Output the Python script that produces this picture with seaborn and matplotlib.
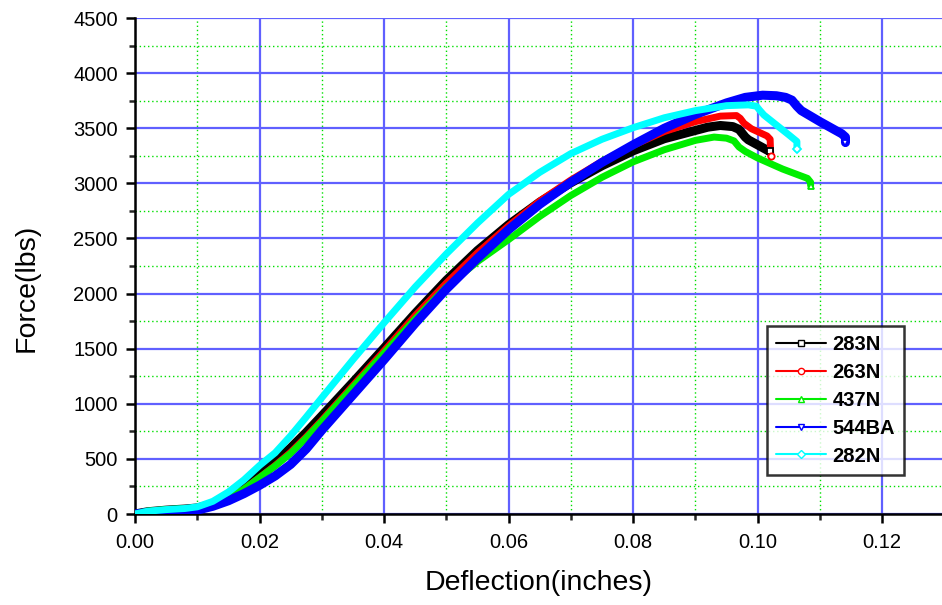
import numpy as np
import pandas as pd
import seaborn as sns
import matplotlib.pyplot as plt
from matplotlib.ticker import MultipleLocator, FormatStrFormatter

# values (deflection in inches, force in lbs)
x_283N = [0.0, 0.002, 0.005, 0.008, 0.01, 0.0125, 0.015, 0.0175, 0.02, 0.0225, 0.025, 0.0275, 0.03, 0.035,
          0.04, 0.045, 0.05, 0.055, 0.06, 0.065, 0.07, 0.075, 0.08, 0.085, 0.09, 0.092, 0.094, 0.096,
          0.097, 0.0975, 0.098, 0.0985, 0.1019]
f_283N = [0, 20, 35, 45, 55, 90, 160, 255, 370, 475, 600, 740, 890, 1195,
          1505, 1820, 2120, 2390, 2625, 2830, 3005, 3160, 3295, 3405, 3480, 3510, 3525, 3515,
          3490, 3455, 3420, 3395, 3290]

x_263N = [0.0, 0.002, 0.005, 0.008, 0.01, 0.0125, 0.015, 0.0175, 0.02, 0.0225, 0.025, 0.0275, 0.03, 0.035,
          0.04, 0.045, 0.05, 0.055, 0.06, 0.065, 0.07, 0.075, 0.08, 0.085, 0.09, 0.094, 0.0966,
          0.0972, 0.0978, 0.099, 0.1015, 0.102, 0.1021]
f_263N = [0, 15, 30, 40, 50, 80, 140, 225, 330, 440, 560, 700, 850, 1165,
          1480, 1800, 2095, 2370, 2615, 2840, 3030, 3200, 3345, 3470, 3560, 3610, 3615,
          3590, 3545, 3495, 3430, 3400, 3250]

x_437N = [0.0, 0.002, 0.005, 0.008, 0.01, 0.0125, 0.015, 0.0175, 0.02, 0.0225, 0.025, 0.0275, 0.03, 0.035,
          0.04, 0.045, 0.05, 0.055, 0.06, 0.065, 0.07, 0.075, 0.08, 0.085, 0.09, 0.093, 0.095, 0.0962,
          0.097, 0.098, 0.1, 0.104, 0.108, 0.1085, 0.1085]
f_437N = [0, 25, 40, 48, 55, 85, 145, 225, 330, 435, 550, 690, 840, 1150,
          1460, 1770, 2060, 2290, 2490, 2700, 2890, 3055, 3195, 3305, 3390, 3420, 3410, 3385,
          3330, 3290, 3230, 3130, 3045, 3010, 2980]

x_544BA = [0.0, 0.002, 0.005, 0.008, 0.01, 0.0125, 0.015, 0.0175, 0.02, 0.0225, 0.025, 0.0275, 0.03, 0.0325,
           0.035, 0.0375, 0.04, 0.045, 0.05, 0.055, 0.06, 0.065, 0.07, 0.075, 0.08, 0.085, 0.09, 0.095,
           0.098, 0.1008, 0.103, 0.1045, 0.1055, 0.1063, 0.107, 0.11, 0.1135, 0.1141, 0.1141]
f_544BA = [0, 12, 22, 30, 35, 70, 120, 185, 260, 345, 450, 590, 760, 920,
           1080, 1240, 1400, 1730, 2040, 2320, 2580, 2810, 3010, 3190, 3350, 3500, 3625, 3730,
           3780, 3800, 3795, 3780, 3755, 3700, 3660, 3560, 3450, 3420, 3370]

x_282N = [0.0, 0.002, 0.005, 0.008, 0.01, 0.0125, 0.015, 0.0175, 0.02, 0.0225, 0.025, 0.0275, 0.03, 0.035,
          0.04, 0.045, 0.05, 0.055, 0.06, 0.065, 0.07, 0.075, 0.08, 0.085, 0.09, 0.095, 0.0985,
          0.0998, 0.1003, 0.101, 0.103, 0.105, 0.1063, 0.1063]
f_282N = [0, 25, 40, 50, 65, 115, 200, 310, 440, 555, 710, 880, 1055, 1400,
          1735, 2060, 2360, 2640, 2900, 3100, 3270, 3400, 3505, 3595, 3660, 3705, 3712,
          3700, 3665, 3620, 3530, 3440, 3380, 3310]

names = ['283N', '263N', '437N', '544BA', '282N']
colors = ['black', '#ff0000', '#00ee00', '#0000ff', '#00ffff']
markers = ['s', 'o', '^', 'v', 'D']
widths = [6.5, 5, 5, 6.5, 5]

xs = [x_283N, x_263N, x_437N, x_544BA, x_282N]
fs = [f_283N, f_263N, f_437N, f_544BA, f_282N]

sns.set_style('white')
plt.rcParams['font.family'] = ['Liberation Sans', 'DejaVu Sans']
plt.rcParams['text.color'] = 'black'
plt.rcParams['axes.labelcolor'] = 'black'

fig = plt.figure(figsize=(9.42, 6.05), dpi=100)
ax = fig.add_axes([0.1433, 0.1504, 0.8567, 0.8198])

for x, f, n, c, m, w in zip(xs, fs, names, colors, markers, widths):
    d = pd.DataFrame({'Deflection': x, 'Force': f})
    sns.lineplot(data=d, x='Deflection', y='Force', color=c, sort=False, estimator=None,
                 linewidth=w, ax=ax, zorder=3, solid_joinstyle='round', solid_capstyle='round')
    # small open marker at the end of each curve
    ax.plot(x[-1], f[-1], marker=m, ms=4.5, mfc='white', mec=c, mew=1.3, ls='none', zorder=4)

ax.set_xlim(0, 0.1296)
ax.set_ylim(0, 4500)
ax.xaxis.set_major_locator(MultipleLocator(0.02))
ax.xaxis.set_minor_locator(MultipleLocator(0.01))
ax.yaxis.set_major_locator(MultipleLocator(500))
ax.yaxis.set_minor_locator(MultipleLocator(250))
ax.xaxis.set_major_formatter(FormatStrFormatter('%.2f'))

ax.grid(which='major', color='#6060ff', linewidth=1.6, linestyle='-', zorder=0)
ax.grid(which='minor', color='#00e000', linewidth=1.0, linestyle=(0, (1, 2)), zorder=0)
ax.set_axisbelow(True)

for s in ['top', 'right']:
    ax.spines[s].set_visible(False)
for s in ['left', 'bottom']:
    ax.spines[s].set_color('black')
    ax.spines[s].set_linewidth(1.8)

ax.tick_params(which='major', direction='out', length=6.5, width=1.8, labelsize=14.5, colors='black',
               left=True, bottom=True)
ax.tick_params(which='minor', direction='out', length=4.5, width=1.8, left=True, bottom=True)
ax.tick_params(axis='x', pad=7)
ax.tick_params(axis='y', pad=6)

ax.set_xlabel('Deflection(inches)', fontsize=20.5, color='black')
ax.set_ylabel('Force(lbs)', fontsize=20.5, color='black')
ax.xaxis.set_label_coords(0.5, -0.113)
ax.yaxis.set_label_coords(-0.118, 0.456)

# legend with line + marker
handles = [plt.Line2D([], [], color=c, lw=1.5, marker=m, ms=4.5, mfc='white', mec=c)
           for c, m in zip(colors, markers)]
leg = ax.legend(handles, names, loc='upper left', bbox_to_anchor=(0.783, 0.379),
                prop={'weight': 'bold', 'size': 14.5}, frameon=True, fancybox=False,
                edgecolor='black', handlelength=2.5, handletextpad=0.3, borderpad=0.45,
                labelspacing=0.44, borderaxespad=0, labelcolor='black')
leg.get_frame().set_linewidth(1.8)
leg.set_zorder(5)

plt.savefig('out.png', dpi=100)
